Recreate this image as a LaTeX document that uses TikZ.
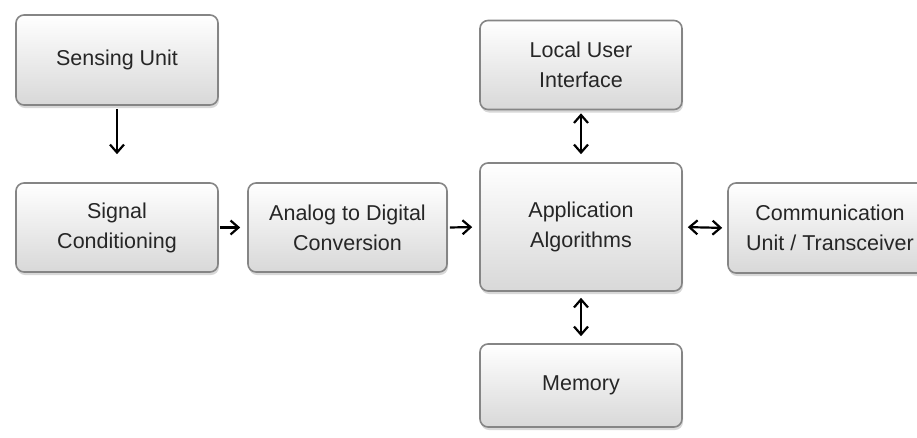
\documentclass[tikz,border=0pt]{standalone}
\usepackage{fontspec}
\setmainfont{Liberation Sans}
\usetikzlibrary{arrows.meta,shadows}
\definecolor{boxline}{HTML}{858585}
\definecolor{boxtext}{HTML}{262626}
\definecolor{boxtop}{HTML}{FFFFFF}
\definecolor{boxbottom}{HTML}{D8D8D8}
\tikzset{
  block/.style={draw=boxline, line width=1.6pt, rounded corners=8pt,
    top color=boxtop, bottom color=boxbottom,
    drop shadow={shadow xshift=1pt, shadow yshift=-3pt, opacity=0.25, fill=black!60},
    text=boxtext, align=center, inner sep=0pt,
    font=\fontsize{21.5}{30}\selectfont},
  link/.style={line width=2.2pt, black, -{Straight Barb[length=8pt,width=14pt]}},
  duallink/.style={line width=2.2pt, black,
    {Straight Barb[length=8pt,width=14pt]}-{Straight Barb[length=8pt,width=14pt]}}
}
\begin{document}
\begin{tikzpicture}[x=1pt,y=-1pt]
  \clip (0,0) rectangle (917,437);
  \fill[white] (0,0) rectangle (917,437);

  % processing chain blocks
  \node[block, minimum width=202pt, minimum height=90pt] (sense) at (117,60) {Sensing Unit};
  \node[block, minimum width=202pt, minimum height=89pt] (cond) at (117,227.5) {Signal\\Conditioning};
  \node[block, minimum width=199pt, minimum height=89pt] (adc) at (347.5,227.5) {Analog to Digital\\Conversion};
  \node[block, minimum width=202pt, minimum height=128pt] (app) at (581,227) {Application\\Algorithms};
  \node[block, minimum width=202pt, minimum height=89pt] (lui) at (581,65) {Local User\\Interface};
  \node[block, minimum width=204pt, minimum height=90pt] (comm) at (830,228) {Communication\\Unit / Transceiver};
  \node[block, minimum width=202pt, minimum height=83pt] (mem) at (581,385.5) {Memory};

  % data flow
  \draw[link, shorten <=3pt, shorten >=28pt] (sense.south) -- (cond.north);
  \draw[link, shorten <=1pt, shorten >=7pt] (cond.east) -- (adc.west);
  \draw[link, shorten <=2pt, shorten >=7pt] (adc.east) -- (app.west);
  \draw[duallink, shorten <=3pt, shorten >=8pt] (lui.south) -- (app.north);
  \draw[duallink, shorten <=5pt, shorten >=5pt] (app.east) -- (comm.west);
  \draw[duallink, shorten <=6pt, shorten >=7pt] (app.south) -- (mem.north);
\end{tikzpicture}
\end{document}
